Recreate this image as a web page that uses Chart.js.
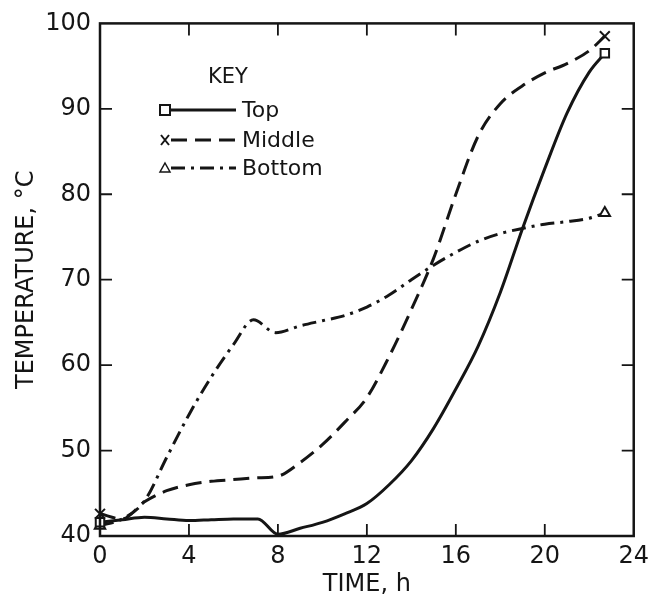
<!DOCTYPE html>
<html>
<head>
<meta charset="utf-8">
<script src="https://cdn.jsdelivr.net/npm/chart.js@4.4.1/dist/chart.umd.min.js"></script>
<style>
  html, body { margin: 0; padding: 0; background: #fff; }
  #wrap { width: 655px; height: 599px; }
</style>
</head>
<body>
<div id="wrap"><canvas id="chart" width="655" height="599"></canvas></div>
<script>
// temperature readings (deg C) against elapsed time (h) for three probe positions
const timeTop = [0, 1, 2, 3, 4, 5, 6, 7.1, 8, 9, 10, 11, 12, 13, 14, 15, 16, 17, 18, 19, 20, 21, 22, 22.7];
const tempTop = [41.6, 41.9, 42.2, 42.0, 41.8, 41.9, 42.0, 42.0, 40.2, 40.9, 41.6, 42.6, 43.8, 46.0, 48.8, 52.6, 57.2, 62.2, 68.5, 76.0, 83.0, 89.5, 94.3, 96.5];

const timeMiddle = [0, 1, 2, 3, 4, 5, 6, 7, 8, 9, 10, 11, 12, 13, 14, 15, 16, 17, 18, 19, 20, 21, 22, 22.7];
const tempMiddle = [42.6, 42.0, 44.0, 45.3, 46.0, 46.4, 46.6, 46.8, 47.0, 48.6, 50.7, 53.3, 56.2, 61.0, 66.5, 72.5, 80.0, 86.8, 90.6, 92.7, 94.2, 95.3, 96.8, 98.5];

const timeBottom = [0, 1, 2, 3, 4, 5, 6, 6.9, 7.9, 9, 10, 11, 12, 13, 14, 15, 16, 17, 18, 19, 20, 21, 22, 22.7];
const tempBottom = [41.2, 42.0, 44.1, 49.2, 54.2, 58.6, 62.4, 65.3, 63.8, 64.6, 65.2, 65.8, 66.8, 68.2, 70.0, 71.7, 73.2, 74.5, 75.4, 76.0, 76.5, 76.8, 77.2, 77.8];

const seriesNames = ["Top", "Middle", "Bottom"];
const xTicks = [0, 4, 8, 12, 16, 20, 24];
const yTicks = [40, 50, 60, 70, 80, 90, 100];

const INK = "#151515";
const FONT = "'DejaVu Sans', sans-serif";

const pairs = (xs, ys) => xs.map((x, i) => ({ x, y: ys[i] }));
// markers only on the first and last reading of each run
const endMarkers = (n, r) => Array.from({ length: n }, (_, i) => (i === 0 || i === n - 1 ? r : 0));

function series(name, xs, ys, dash, style, r) {
  return {
    label: name,
    data: pairs(xs, ys),
    borderColor: INK,
    borderWidth: 3,
    borderDash: dash,
    cubicInterpolationMode: "monotone",
    pointStyle: style,
    pointRadius: endMarkers(xs.length, r),
    pointHoverRadius: 0,
    pointBackgroundColor: "#fff",
    pointBorderColor: INK,
    pointBorderWidth: 2,
    clip: false,
  };
}

// ---------------------------------------------------------------------
// frame with inward ticks on all four sides
// ---------------------------------------------------------------------
const frame = {
  id: "frame",
  afterDatasetsDraw(chart) {
    const { ctx, chartArea: a, scales } = chart;
    const len = 12;
    ctx.save();
    ctx.strokeStyle = INK;
    ctx.lineWidth = 2.5;
    ctx.strokeRect(a.left, a.top, a.right - a.left, a.bottom - a.top);
    ctx.lineWidth = 1.8;
    ctx.beginPath();
    xTicks.slice(1, -1).forEach((v) => {
      const px = scales.x.getPixelForValue(v);
      ctx.moveTo(px, a.bottom); ctx.lineTo(px, a.bottom - len);
      ctx.moveTo(px, a.top); ctx.lineTo(px, a.top + len);
    });
    yTicks.slice(1, -1).forEach((v) => {
      const py = scales.y.getPixelForValue(v);
      ctx.moveTo(a.left, py); ctx.lineTo(a.left + len, py);
      ctx.moveTo(a.right, py); ctx.lineTo(a.right - len, py);
    });
    ctx.stroke();
    ctx.restore();
  },
};

// ---------------------------------------------------------------------
// "KEY" box in the upper left of the plot
// ---------------------------------------------------------------------
const keyBox = {
  id: "keyBox",
  afterDatasetsDraw(chart) {
    const { ctx } = chart;
    const x0 = 165, x1 = 236, tx = 242;
    const rows = [110, 140, 168];
    ctx.save();
    ctx.fillStyle = INK;
    ctx.strokeStyle = INK;
    ctx.textBaseline = "middle";
    ctx.font = `21px ${FONT}`;
    ctx.textAlign = "center";
    ctx.fillText("KEY", 228, 78);
    ctx.textAlign = "left";
    ctx.font = `22px ${FONT}`;
    chart.data.datasets.forEach((ds, i) => {
      const y = rows[i];
      ctx.lineWidth = 3;
      ctx.setLineDash(ds.borderDash);
      ctx.beginPath();
      ctx.moveTo(x0 + 6, y);
      ctx.lineTo(x1, y);
      ctx.stroke();
      ctx.setLineDash([]);
      ctx.lineWidth = 2;
      ctx.beginPath();
      if (ds.pointStyle === "rect") {
        ctx.fillStyle = "#fff";
        ctx.fillRect(x0 - 5, y - 5, 10, 10);
        ctx.strokeRect(x0 - 5, y - 5, 10, 10);
      } else if (ds.pointStyle === "crossRot") {
        ctx.moveTo(x0 - 4, y - 5); ctx.lineTo(x0 + 4, y + 5);
        ctx.moveTo(x0 + 4, y - 5); ctx.lineTo(x0 - 4, y + 5);
        ctx.stroke();
      } else {
        ctx.lineWidth = 1.5;
        ctx.moveTo(x0, y - 5); ctx.lineTo(x0 + 5, y + 4); ctx.lineTo(x0 - 5, y + 4); ctx.closePath();
        ctx.fillStyle = "#fff";
        ctx.fill();
        ctx.stroke();
      }
      ctx.fillStyle = INK;
      ctx.fillText(ds.label, tx, y + 1);
    });
    ctx.restore();
  },
};

new Chart(document.getElementById("chart"), {
  type: "line",
  data: {
    datasets: [
      series(seriesNames[0], timeTop, tempTop, [], "rect", 6),
      series(seriesNames[1], timeMiddle, tempMiddle, [16, 8], "crossRot", 7),
      series(seriesNames[2], timeBottom, tempBottom, [14, 6, 3, 6], "triangle", 6),
    ],
  },
  options: {
    responsive: false,
    animation: false,
    devicePixelRatio: 1,
    layout: { padding: { top: 18, right: 20, left: 0, bottom: 0 } },
    plugins: { legend: { display: false }, tooltip: { enabled: false } },
    scales: {
      x: {
        type: "linear",
        min: 0,
        max: 24,
        afterBuildTicks: (s) => { s.ticks = xTicks.map((v) => ({ value: v })); },
        afterFit: (s) => { s.height = 63; },
        ticks: { color: INK, font: { family: FONT, size: 24 }, padding: 6, maxRotation: 0 },
        grid: { display: false, drawTicks: false },
        border: { display: false },
        title: { display: true, text: "TIME, h", color: INK, font: { family: FONT, size: 24 }, padding: { top: 0, bottom: 0 } },
      },
      y: {
        min: 40,
        max: 100,
        afterBuildTicks: (s) => { s.ticks = yTicks.map((v) => ({ value: v })); },
        afterFit: (s) => { s.width = 100; },
        ticks: { color: INK, font: { family: FONT, size: 24 }, padding: 9 },
        grid: { display: false, drawTicks: false },
        border: { display: false },
        title: { display: true, text: "TEMPERATURE, °C", color: INK, font: { family: FONT, size: 24 }, padding: { top: 12, bottom: 0 } },
      },
    },
  },
  plugins: [frame, keyBox],
});
</script>
</body>
</html>
